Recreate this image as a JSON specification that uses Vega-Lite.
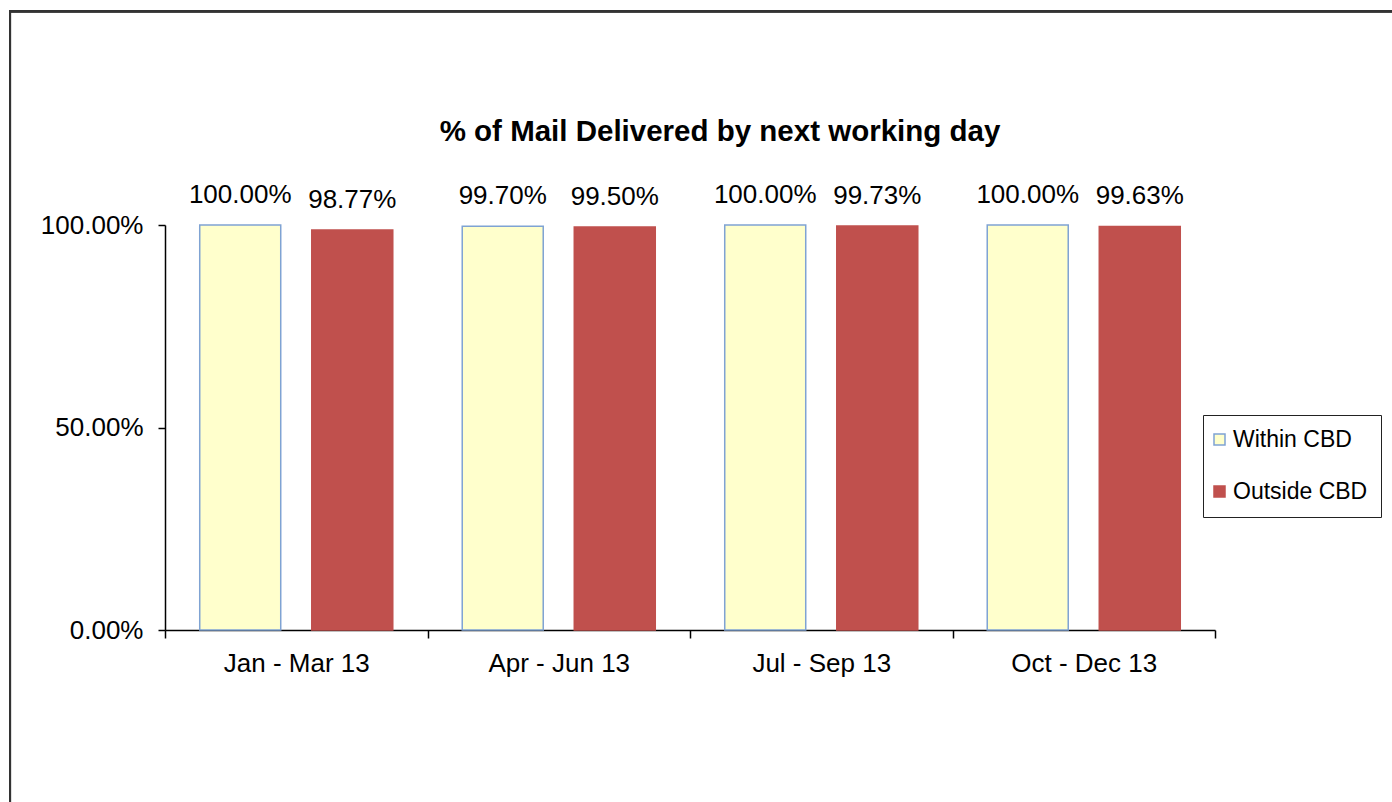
{
  "$schema": "https://vega.github.io/schema/vega-lite/v6.json",
  "autosize": {"type": "none"},
  "width": 1050,
  "height": 405,
  "padding": {"left": 165, "top": 225, "right": 177, "bottom": 172},
  "background": "white",
  "config": {
    "view": {"stroke": null},
    "font": "Liberation Sans",
    "axis": {"labelFont": "Liberation Sans", "labelColor": "#000", "domainColor": "#000", "tickColor": "#000", "grid": false, "titleFont": "Liberation Sans"}
  },
  "title": {
    "text": "% of Mail Delivered by next working day",
    "font": "Liberation Sans",
    "fontSize": 29.5,
    "fontWeight": "bold",
    "color": "#000",
    "anchor": "middle",
    "frame": "group",
    "dx": 30,
    "offset": -137
  },
  "data": {
    "values": [
      {"period": "Jan - Mar 13", "series": "Within CBD", "value": 1.0},
      {"period": "Jan - Mar 13", "series": "Outside CBD", "value": 0.9877},
      {"period": "Apr - Jun 13", "series": "Within CBD", "value": 0.997},
      {"period": "Apr - Jun 13", "series": "Outside CBD", "value": 0.995},
      {"period": "Jul - Sep 13", "series": "Within CBD", "value": 1.0},
      {"period": "Jul - Sep 13", "series": "Outside CBD", "value": 0.9973},
      {"period": "Oct - Dec 13", "series": "Within CBD", "value": 1.0},
      {"period": "Oct - Dec 13", "series": "Outside CBD", "value": 0.9963}
    ]
  },
  "resolve": {"scale": {"x": "independent", "y": "independent"}},
  "layer": [
    {
      "layer": [
        {
          "mark": {"type": "bar", "strokeWidth": 1.5},
          "encoding": {
            "x": {
              "field": "period", "type": "nominal", "sort": null,
              "scale": {"paddingInner": 0, "paddingOuter": 0},
              "axis": {"title": null, "labelAngle": 0, "labelFontSize": 26, "labelPadding": 12, "tickBand": "extent", "tickSize": 8, "domainWidth": 1.5, "tickWidth": 1.5}
            },
            "xOffset": {
              "field": "series", "type": "nominal", "sort": ["Within CBD", "Outside CBD"],
              "scale": {"paddingInner": 0.277, "paddingOuter": 0.31}
            },
            "y": {
              "field": "value", "type": "quantitative",
              "scale": {"domain": [0, 1], "nice": false},
              "axis": {"title": null, "values": [0, 0.5, 1], "format": ".2%", "labelFontSize": 26, "labelPadding": 15, "tickSize": 7, "domainWidth": 1.5, "tickWidth": 1.5}
            },
            "fill": {
              "field": "series", "type": "nominal",
              "scale": {"domain": ["Within CBD", "Outside CBD"], "range": ["#FFFFCC", "#C0504D"]},
              "legend": {
                "title": null, "orient": "none", "legendX": 1038, "legendY": 190,
                "labelFontSize": 23, "labelFont": "Liberation Sans", "labelColor": "#000",
                "symbolType": "square", "symbolSize": 121, "symbolOffset": -8,
                "rowPadding": 28, "padding": 13, "strokeColor": "#222",
                "labelOffset": 2, "fillColor": "white"
              }
            },
            "stroke": {
              "field": "series", "type": "nominal",
              "scale": {"domain": ["Within CBD", "Outside CBD"], "range": ["#7FA3D3", "#C0504D"]},
              "legend": null
            }
          }
        },
        {
          "mark": {"type": "text", "baseline": "alphabetic", "dy": -22, "fontSize": 26, "font": "Liberation Sans", "color": "#000"},
          "encoding": {
            "x": {"field": "period", "type": "nominal", "sort": null},
            "xOffset": {"field": "series", "type": "nominal", "sort": ["Within CBD", "Outside CBD"]},
            "y": {"field": "value", "type": "quantitative"},
            "text": {"field": "value", "type": "quantitative", "format": ".2%"}
          }
        }
      ]
    },
    {
      "mark": {"type": "rect", "filled": false, "stroke": "#333", "strokeWidth": 2},
      "encoding": {
        "x": {"datum": -0.1476, "type": "quantitative", "scale": {"domain": [0, 1], "nice": false, "zero": false}, "axis": null},
        "x2": {"datum": 1.2},
        "y": {"datum": 1.528, "type": "quantitative", "scale": {"domain": [0, 1], "nice": false, "zero": false}, "axis": null},
        "y2": {"datum": -0.47}
      }
    }
  ]
}
